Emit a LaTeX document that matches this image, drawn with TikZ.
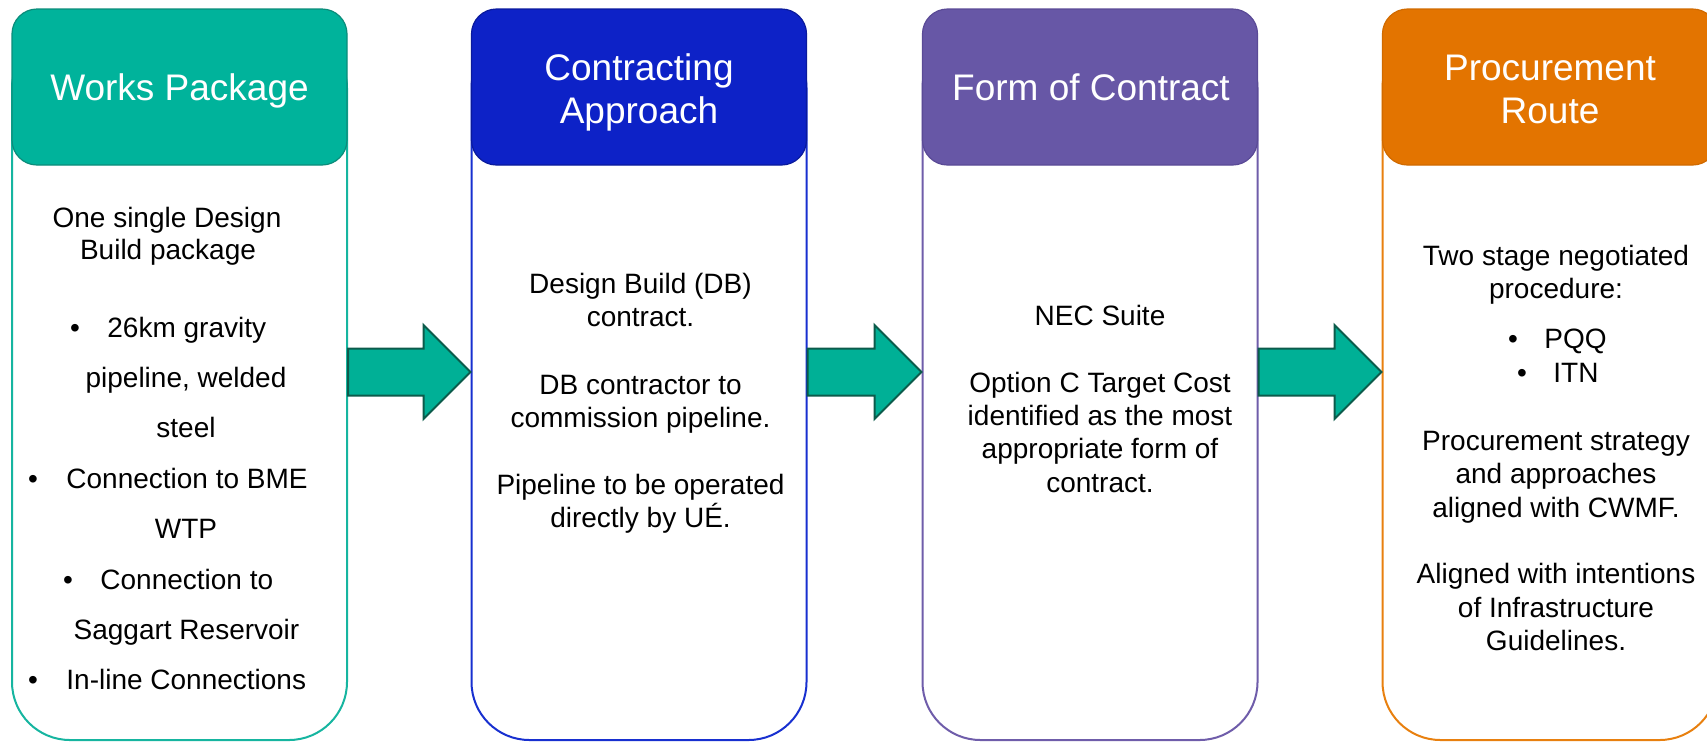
\documentclass[tikz,border=0pt]{standalone}
\usepackage{fontspec}
\setmainfont{Liberation Sans}
\usetikzlibrary{calc}
\definecolor{wpfill}{HTML}{00B39B}
\definecolor{wpedge}{HTML}{0B8C7A}
\definecolor{wpline}{HTML}{16B5A0}
\definecolor{cafill}{HTML}{0D22C7}
\definecolor{caedge}{HTML}{0A1A9C}
\definecolor{caline}{HTML}{1830D0}
\definecolor{fcfill}{HTML}{6757A6}
\definecolor{fcedge}{HTML}{5A4A96}
\definecolor{fcline}{HTML}{6F5DAA}
\definecolor{prfill}{HTML}{E37400}
\definecolor{predge}{HTML}{D06A00}
\definecolor{prline}{HTML}{E8800F}
\definecolor{arfill}{HTML}{00B096}
\definecolor{aredge}{HTML}{0C5B4B}
\tikzset{
stagebody/.style={draw,line width=1pt,fill=white,rounded corners=29pt,minimum width=167.5pt,minimum height=355pt,inner sep=0pt},
stagehead/.style={draw,line width=0.6pt,rounded corners=12.5pt,minimum width=167.5pt,minimum height=78pt,inner sep=0pt},
headtxt/.style={font=\fontsize{18.5}{21.5}\selectfont,text=white,anchor=base,inner sep=0pt},
bodytxt/.style={font=\fontsize{14}{16.7}\selectfont,anchor=base,inner sep=0pt},
bullettxt/.style={bodytxt,anchor=base west},
arrowstyle/.style={fill=arfill,draw=aredge,line width=1pt,line join=miter}
}
\newcommand{\blockarrow}[2]{
\filldraw[arrowstyle] ($(#1)+(0,-23.5)$) -- ($(#2)+(-47,-23.5)$) -- ($(#2)+(-47,-47)$) -- (#2) -- ($(#2)+(-47,47)$) -- ($(#2)+(-47,23.5)$) -- ($(#1)+(0,23.5)$) -- cycle;
}
\begin{document}
\begin{tikzpicture}[x=0.5pt,y=-0.5pt]
\useasboundingbox (0,0) rectangle (1707,741);
% bodies
\node[stagebody,draw=wpline] (wpbody) at (179.5,385) {};
\node[stagebody,draw=caline] (cabody) at (639,385) {};
\node[stagebody,draw=fcline] (fcbody) at (1090,385) {};
\node[stagebody,draw=prline] (prbody) at (1550,385) {};
% headers
\node[stagehead,fill=wpfill,draw=wpedge] (wphead) at (179.5,87) {};
\node[stagehead,fill=cafill,draw=caedge] (cahead) at (639,87) {};
\node[stagehead,fill=fcfill,draw=fcedge] (fchead) at (1090,87) {};
\node[stagehead,fill=prfill,draw=predge] (prhead) at (1550,87) {};
\node[headtxt] (wptitle) at (179.5,100.5) {Works Package};
\node[headtxt] (catitle1) at (639,80) {Contracting};
\node[headtxt] (catitle2) at (639,123) {Approach};
\node[headtxt] (fctitle) at (1091,100) {Form of Contract};
\node[headtxt] (prtitle1) at (1550,80) {Procurement};
\node[headtxt] (prtitle2) at (1550,123) {Route};
% arrows
\coordinate (a1s) at (wpbody.east |- 0,372);
\coordinate (a1t) at (cabody.west |- 0,372);
\coordinate (a2s) at (cabody.east |- 0,372);
\coordinate (a2t) at (fcbody.west |- 0,372);
\coordinate (a3s) at (fcbody.east |- 0,372);
\coordinate (a3t) at (prbody.west |- 0,372);
\blockarrow{a1s}{a1t}
\blockarrow{a2s}{a2t}
\blockarrow{a3s}{a3t}
% works package
\node[bodytxt] (wp1) at (167,227) {One single Design};
\node[bodytxt] (wp2) at (168,259) {Build package};
\node[bodytxt] (wpb1) at (75,337) {•};
\node[bullettxt] (wp3) at (107,337) {26km gravity};
\node[bodytxt] (wp4) at (186,387) {pipeline, welded};
\node[bodytxt] (wp5) at (186,437) {steel};
\node[bodytxt] (wpb2) at (33,488) {•};
\node[bullettxt] (wp6) at (66,488) {Connection to BME};
\node[bodytxt] (wp7) at (186,538) {WTP};
\node[bodytxt] (wpb3) at (68,589) {•};
\node[bullettxt] (wp8) at (100,589) {Connection to};
\node[bodytxt] (wp9) at (186.5,639) {Saggart Reservoir};
\node[bodytxt] (wpb4) at (33,689) {•};
\node[bullettxt] (wp10) at (66,689) {In-line Connections};
% contracting approach
\node[bodytxt] (ca1) at (640.5,293) {Design Build (DB)};
\node[bodytxt] (ca2) at (640.5,326) {contract.};
\node[bodytxt] (ca3) at (640.5,394) {DB contractor to};
\node[bodytxt] (ca4) at (640.5,427) {commission pipeline.};
\node[bodytxt] (ca5) at (640.5,494) {Pipeline to be operated};
\node[bodytxt] (ca6) at (640.5,527) {directly by UÉ.};
% form of contract
\node[bodytxt] (fc1) at (1100,325) {NEC Suite};
\node[bodytxt] (fc2) at (1100,392) {Option C Target Cost};
\node[bodytxt] (fc3) at (1100,425) {identified as the most};
\node[bodytxt] (fc4) at (1100,458) {appropriate form of};
\node[bodytxt] (fc5) at (1100,492) {contract.};
% procurement route
\node[bodytxt] (pr1) at (1556,265) {Two stage negotiated};
\node[bodytxt] (pr2) at (1556,298) {procedure:};
\node[bodytxt] (prb1) at (1513,348) {•};
\node[bullettxt] (pr3) at (1544,348) {PQQ};
\node[bodytxt] (prb2) at (1522,382) {•};
\node[bullettxt] (pr4) at (1553,382) {ITN};
\node[bodytxt] (pr5) at (1556,450) {Procurement strategy};
\node[bodytxt] (pr6) at (1556,483) {and approaches};
\node[bodytxt] (pr7) at (1556,517) {aligned with CWMF.};
\node[bodytxt] (pr8) at (1556,583) {Aligned with intentions};
\node[bodytxt] (pr9) at (1556,617) {of Infrastructure};
\node[bodytxt] (pr10) at (1556,650) {Guidelines.};
\end{tikzpicture}
\end{document}
